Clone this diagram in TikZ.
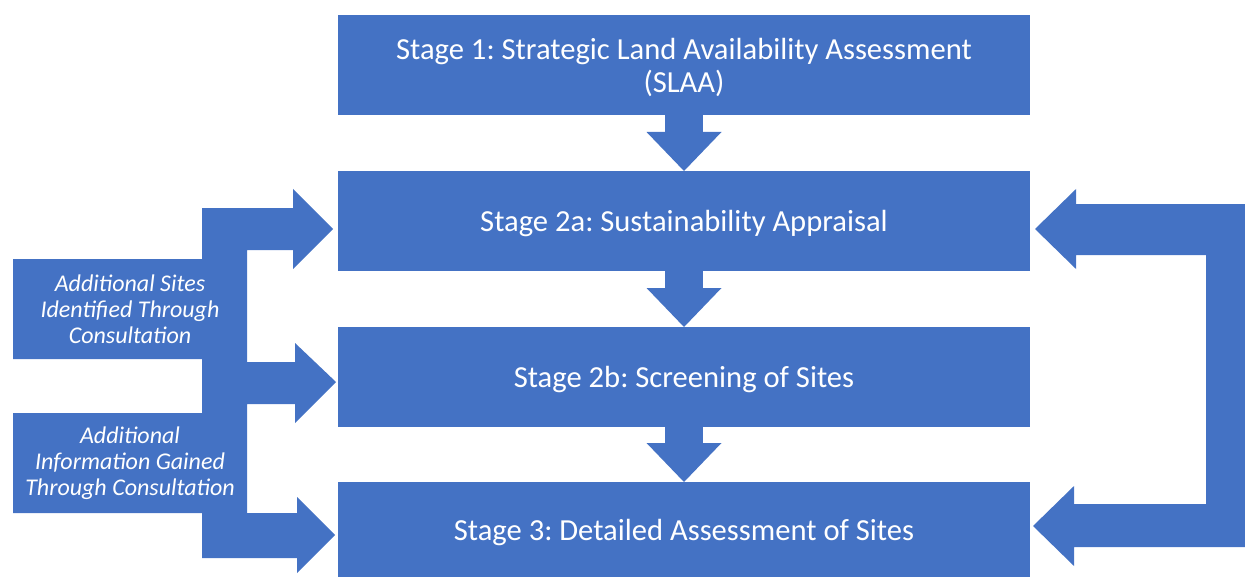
\documentclass[tikz,border=0pt]{standalone}
\usepackage{fontspec}
\setmainfont{Carlito}
\usetikzlibrary{arrows.meta,positioning}
\definecolor{stageblue}{HTML}{4472C4}
\frenchspacing

\begin{document}
\begin{tikzpicture}[x=0.5pt,y=-0.5pt,
	stage/.style={rectangle,fill=stageblue,text=white,minimum width=346pt,minimum height=50pt,inner sep=0pt,outer sep=0pt,text depth=0pt,align=center,font=\fontsize{15.3}{16.5}\selectfont},
	note/.style={text=white,align=center,inner sep=0pt,font=\fontsize{12}{13}\selectfont\itshape},
	down/.style={color=stageblue,line width=19pt,-{Triangle[length=19.5pt,width=37.5pt,line width=0pt]}}]
		\useasboundingbox (0,0) rectangle (1245,577);
		\node[stage] (s_1) at (684,65) {Stage 1: Strategic Land Availability Assessment\\(SLAA)};
		\node[stage] [below=28pt of s_1] (s_2a) {Stage 2a: Sustainability Appraisal};
		\node[stage] [below=28pt of s_2a] (s_2b) {Stage 2b: Screening of Sites};
		\node[stage,minimum height=47.5pt] [below=27.5pt of s_2b] (s_3) {Stage 3: Detailed Assessment of Sites};
		\path[down]
			(s_1) edge (s_2a)
			(s_2a) edge (s_2b)
			(s_2b) edge (s_3);
		% consultation arrows, left
		\fill[stageblue] (202,208) -- (293,208) -- (293,189) -- (333,229) -- (293,269) -- (293,250)
			-- (247,250) -- (247,362) -- (295,362) -- (295,343) -- (336,382) -- (295,423) -- (295,404)
			-- (247,404) -- (247,513) -- (297,513) -- (297,497) -- (335,535) -- (297,573) -- (297,558)
			-- (202,558) -- (202,513) -- (13,513) -- (13,413) -- (202,413) -- (202,359) -- (13,359)
			-- (13,259) -- (202,259) -- cycle;
		% feedback arrow, right
		\fill[stageblue] (1245,204) -- (1076,204) -- (1076,189) -- (1035,229) -- (1076,269) -- (1076,255)
			-- (1206,255) -- (1206,504) -- (1074,504) -- (1074,486) -- (1033,526) -- (1074,566)
			-- (1074,547) -- (1245,547) -- cycle;
		\node[note] (n_sites) at (130,309) {Additional Sites\\Identified Through\\Consultation};
		\node[note] (n_info) at (130,463) {Additional\\Information Gained\\Through Consultation};
\end{tikzpicture}
\end{document}
